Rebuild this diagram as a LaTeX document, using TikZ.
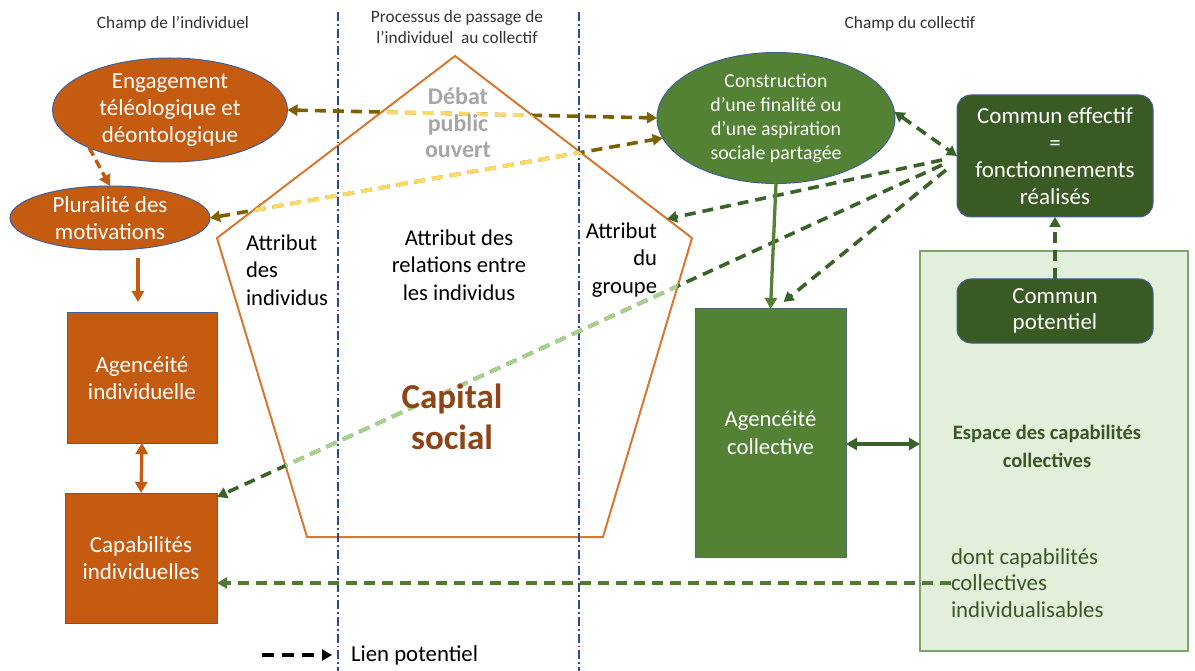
\documentclass[tikz,border=0pt]{standalone}
\usepackage{fontspec}
\setmainfont{Carlito}
\usetikzlibrary{shapes.geometric,arrows.meta,calc}
\definecolor{orF}{HTML}{C55A11}
\definecolor{pentc}{HTML}{D9772F}
\definecolor{bordb}{HTML}{41609A}
\definecolor{grF}{HTML}{548235}
\definecolor{dgF}{HTML}{3A5A24}
\definecolor{dgL}{HTML}{3B6228}
\definecolor{mgL}{HTML}{507A34}
\definecolor{ltF}{HTML}{E2EFDA}
\definecolor{ltB}{HTML}{7FA566}
\definecolor{olv}{HTML}{7F6000}
\definecolor{yel}{HTML}{FFD966}
\definecolor{lgr}{HTML}{A9D18E}
\definecolor{vln}{HTML}{2B4A94}
\definecolor{gryT}{HTML}{A6A6A6}
\definecolor{capC}{HTML}{8F4416}
\definecolor{espT}{HTML}{3A5826}
\definecolor{headT}{HTML}{333333}
\begin{document}
\begin{tikzpicture}[x=1pt,y=-1pt,
  every node/.style={inner sep=0pt,outer sep=0pt},
  ellorange/.style={ellipse,draw=bordb,line width=1pt,fill=orF,text=white,align=center,font=\fontsize{23}{27}\selectfont},
  boxorange/.style={rectangle,draw=bordb,line width=1pt,fill=orF,text=white,align=center,font=\fontsize{23}{27}\selectfont},
  ellgreen/.style={ellipse,draw=bordb,line width=1pt,fill=grF,text=white,align=center,font=\fontsize{19.8}{24}\selectfont},
  boxgreen/.style={rectangle,draw=bordb!60!grF,line width=1pt,fill=grF,text=white,align=center,font=\fontsize{22.7}{28}\selectfont},
  commun/.style={rectangle,rounded corners=14pt,draw=bordb,line width=1pt,fill=dgF,text=white,align=center,font=\fontsize{23}{27}\selectfont},
  headtxt/.style={text=headT,align=center,font=\fontsize{17.3}{21.5}\selectfont},
  attr/.style={text=black,font=\fontsize{22.6}{27.5}\selectfont},
  vline/.style={vln,line width=1.8pt,dash pattern=on 9pt off 3pt on 1.8pt off 3pt},
  pentline/.style={pentc,line width=2pt,line join=miter},
  dline/.style={line width=3.6pt,dash pattern=on 11pt off 7pt},
  tipd/.style={-{Triangle[length=10pt,width=11pt]}},
  tipdd/.style={{Triangle[length=10pt,width=11pt]}-{Triangle[length=10pt,width=11pt]}},
  solidarr/.style={line width=3.3pt,-{Triangle[length=11pt,width=12pt]}},
  solidarrd/.style={line width=3.3pt,{Triangle[length=11pt,width=12pt]}-{Triangle[length=11pt,width=12pt]}}
]
\useasboundingbox (0,0) rectangle (1195,671);

% light green capability space
\node[rectangle,draw=ltB,line width=1.6pt,fill=ltF,minimum width=268pt,minimum height=400pt] (esp) at (1054,451) {};

% pentagon
\coordinate (p1) at (455,56);
\coordinate (p2) at (692,238);
\coordinate (p3) at (603,537);
\coordinate (p4) at (307,537);
\coordinate (p5) at (217,238);
\draw[pentline] (p1) -- (p2) -- (p3) -- (p4) -- (p5) -- cycle;
\coordinate (pt) at (667,219);

% separators
\draw[vline] (338,12) -- (338,671);
\draw[vline] (579,12) -- (579,671);

% headings
\node[headtxt] (h1) at (173,24) {Champ de l’individuel};
\node[headtxt] (h2) at (457,27) {Processus de passage de\\l’individuel\ \ au collectif};
\node[headtxt] (h3) at (910,24) {Champ du collectif};

% main nodes
\node[ellorange,minimum width=235pt,minimum height=104pt] (eng) at (170,110) {Engagement\\téléologique et\\déontologique};
\node[ellorange,minimum width=200pt,minimum height=64pt] (plu) at (110,218) {Pluralité des\\motivations};
\node[boxorange,minimum width=150pt,minimum height=130pt] (agi) at (142,378) {Agencéité\\individuelle};
\node[boxorange,minimum width=152pt,minimum height=130pt] (capi) at (141,558) {Capabilités\\individuelles};

\node[ellgreen,minimum width=238pt,minimum height=131pt] (con) at (776,118) {Construction\\d’une finalité ou\\d’une aspiration\\sociale partagée};
\node[commun,minimum width=196pt,minimum height=122pt] (ce) at (1055,156) {Commun effectif\\=\\fonctionnements\\réalisés};
\node[commun,minimum width=196pt,minimum height=64pt,font=\fontsize{23}{26}\selectfont] (cp) at (1055,311) {Commun\\potentiel};
\node[boxgreen,minimum width=151pt,minimum height=248pt] (agc) at (770.5,433) {Agencéité\\collective};

\node[text=espT,align=center,font=\bfseries\fontsize{20.5}{28}\selectfont] (esptxt) at (1047,446) {Espace des capabilités\\collectives};
\node[anchor=west,text=espT,align=left,font=\fontsize{22.8}{26.5}\selectfont] (dont) at (951,583) {dont capabilités\\collectives\\individualisables};

% olive / yellow links
\draw[olv,dline,tipdd] (eng.east) -- (con.west);
\draw[olv,dline,tipdd] (plu.east) -- (con.190);
% dark green dashed links from the effective common
\draw[dgL,dline,tipdd] (con.3) -- (ce.west);
\draw[dgL,dline,tipd] ([xshift=-15pt,yshift=-4pt]ce.west) -- (pt);
\draw[dgL,dline,tipd] ([xshift=-15pt,yshift=-9pt]ce.west) -- ([yshift=-4pt]capi.north east);
\draw[dgL,dline,tipd] ([xshift=-11pt,yshift=-14pt]ce.west) -- ([xshift=13pt,yshift=7pt]agc.north);
% recolour the parts inside the pentagon
\begin{scope}
\clip (p1) -- (p2) -- (p3) -- (p4) -- (p5) -- cycle;
\draw[yel,dline,line width=3.9pt,tipdd] (eng.east) -- (con.west);
\draw[yel,dline,line width=3.9pt,tipdd] (plu.east) -- (con.190);
\draw[lgr,dline,line width=3.9pt,tipd] ([xshift=-15pt,yshift=-9pt]ce.west) -- ([yshift=-4pt]capi.north east);
\end{scope}

% pentagon texts
\node[attr,align=left,anchor=west] (ai) at (246,270) {Attribut\\des\\individus};
\node[attr,align=center] (ar) at (459,265) {Attribut des\\relations entre\\les individus};
\node[attr,align=right,anchor=east] (ag) at (657,260) {Attribut\\du\\groupe};
\node[text=gryT,align=center,font=\bfseries\fontsize{24}{26.5}\selectfont] (debat) at (458,123) {Débat\\public\\ouvert};
\node[text=capC,align=center,font=\bfseries\fontsize{35}{41}\selectfont] (cap) at (452,417) {Capital\\social};

% orange links
\draw[orF,line width=3.5pt,dash pattern=on 9pt off 5pt,-{Triangle[length=11pt,width=12pt]}] (eng.205) -- (plu.north);
\draw[orF,solidarr] ([xshift=28pt,yshift=-8pt]plu.south) -- ([xshift=-4pt,yshift=11pt]agi.north);
\draw[orF,solidarrd] (agi.south) -- (capi.north);

% green links
\draw[grF,solidarr] (con.south) -- (agc.north);
\draw[dgL,solidarrd] ([yshift=-11pt]agc.east) -- ([yshift=-11pt]agc.east -| esp.west);
\draw[dgL,dline,tipd] (cp.north) -- (ce.south);
\draw[mgL,dline,tipd] (dont.west) -- (dont.west -| capi.east);

% legend
\node[anchor=west,text=black,font=\fontsize{22.8}{26}\selectfont] (lien) at (351,655) {Lien potentiel};
\coordinate (lg) at (262,655);
\draw[black,line width=3.6pt,dash pattern=on 12pt off 8pt,-{Triangle[length=10pt,width=11pt]}] (lg) -- ([xshift=-19pt]lien.west);
\end{tikzpicture}
\end{document}
